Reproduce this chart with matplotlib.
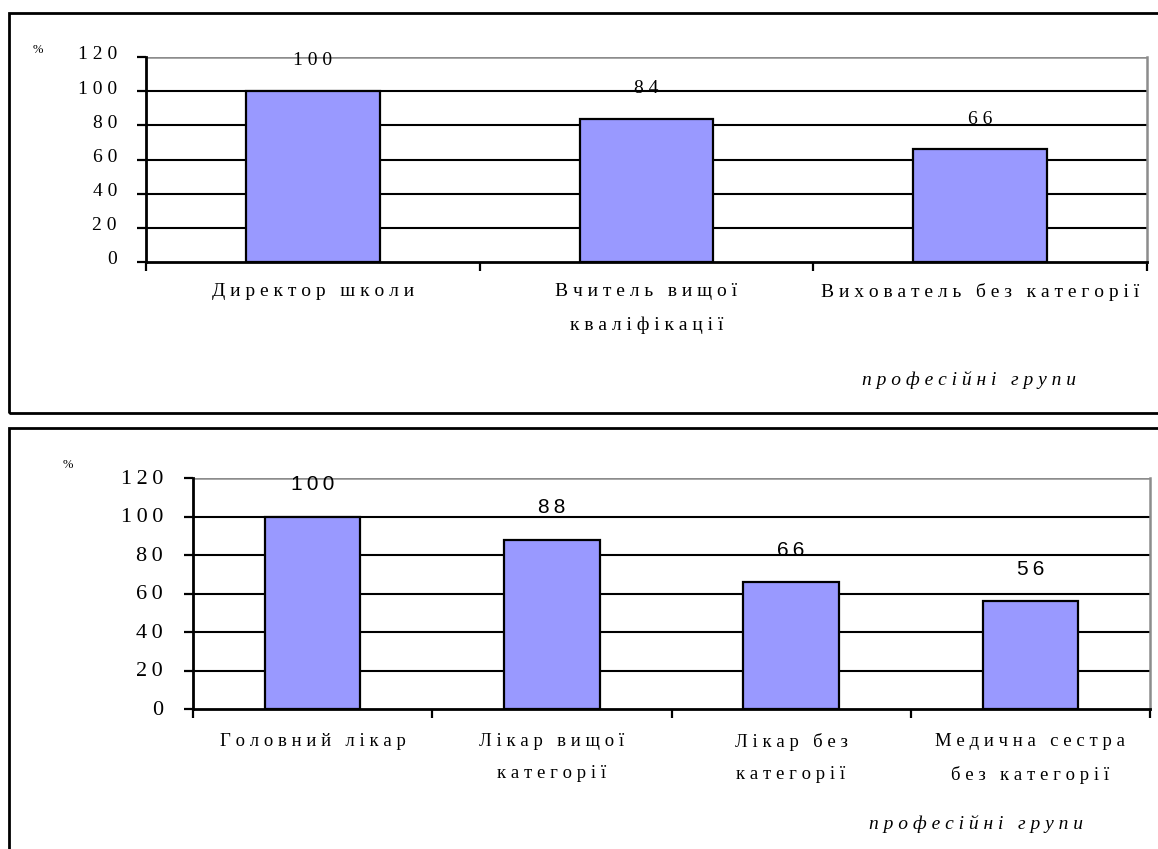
import matplotlib.pyplot as plt
import matplotlib.transforms as mtransforms
from matplotlib.patches import Rectangle

# top chart: school
school_groups = ["Директор школи", "Вчитель вищої\nкваліфікації", "Вихователь без категорії"]
school_values = [100, 84, 66]

# bottom chart: hospital
med_groups = ["Головний лікар", "Лікар вищої\nкатегорії", "Лікар без\nкатегорії", "Медична сестра\nбез категорії"]
med_values = [100, 88, 66, 56]

y_ticks = [0, 20, 40, 60, 80, 100, 120]
x_title = "професійні групи"

W, H = 1158, 849
BAR = "#9999ff"
SERIF = "Liberation Serif"
SANS = "Liberation Sans"
THIN = "\u2009"


def box(l, t, r, b):
    # pixel box -> figure fraction rect
    return [l / W, 1 - b / H, (r - l) / W, (b - t) / H]


def spaced(s, gap=" "):
    # letter-spaced text like in the old Word chart
    return "\n".join(gap.join(line) for line in s.split("\n"))


def draw_panel(fig, rect, cats, vals, tick_fs, tick_gap, tick_pad, tick_lift,
               val_font, val_fs, val_gap, val_off, cat_fs, cat_pad):
    ax = fig.add_axes(rect)
    x = list(range(len(cats)))
    ax.bar(x, vals, width=0.4, color=BAR, edgecolor="black", linewidth=1.6, zorder=3)
    ax.set_xlim(-0.5, len(cats) - 0.5)
    ax.set_ylim(0, 120)
    ax.set_yticks(y_ticks)
    ax.set_yticklabels([spaced(str(t), tick_gap) for t in y_ticks], fontfamily=SERIF, fontsize=tick_fs)
    for t in y_ticks[1:-1]:
        ax.axhline(t, color="black", linewidth=1.5, zorder=1)
    ax.axhline(120, color="#8c8c8c", linewidth=1.8, zorder=1)
    ax.set_xticks([i - 0.5 for i in range(len(cats) + 1)])
    ax.set_xticklabels([])
    ax.tick_params(axis="both", direction="out", length=6.5, width=1.6, color="black")
    ax.tick_params(axis="y", pad=tick_pad)
    lift = mtransforms.ScaledTranslation(0, tick_lift / 72, fig.dpi_scale_trans)
    for lab in ax.get_yticklabels():
        lab.set_transform(lab.get_transform() + lift)
    for i, c in enumerate(cats):
        ax.annotate(spaced(c), (i, 0), xytext=(0, -cat_pad), textcoords="offset points",
                    ha="center", va="top", fontfamily=SERIF, fontsize=cat_fs, linespacing=2.2)
    for i, v in enumerate(vals):
        ax.annotate(spaced(str(v), val_gap), (i, v), xytext=(0, val_off), textcoords="offset points",
                    ha="center", va="baseline", fontfamily=val_font, fontsize=val_fs)
    ax.spines["left"].set_linewidth(2)
    ax.spines["bottom"].set_linewidth(2)
    ax.spines["top"].set_visible(False)
    ax.spines["right"].set_color("#8c8c8c")
    ax.spines["right"].set_linewidth(1.8)
    return ax


fig = plt.figure(figsize=(W / 100, H / 100), dpi=100)

# outer frames
fig.patches.append(Rectangle((9 / W, 1 - 413 / H), 1.2, (413 - 13) / H, transform=fig.transFigure,
                             fill=False, edgecolor="black", linewidth=2))
fig.patches.append(Rectangle((9 / W, -0.1), 1.2, 0.1 + 1 - 428 / H, transform=fig.transFigure,
                             fill=False, edgecolor="black", linewidth=2))

draw_panel(fig, box(146, 57, 1147, 262), school_groups, school_values,
           tick_fs=14, tick_gap=" ", tick_pad=14.4, tick_lift=3,
           val_font=SERIF, val_fs=14, val_gap=" ", val_off=18.5, cat_fs=14, cat_pad=15.3)
fig.text(38 / W, 1 - 50 / H, "%", fontfamily=SERIF, fontsize=9, ha="center", va="center")
fig.text(969 / W, 1 - 380 / H, spaced(x_title), fontfamily=SERIF, fontsize=14, style="italic",
         ha="center", va="center")

draw_panel(fig, box(193, 478, 1150, 709), med_groups, med_values,
           tick_fs=16, tick_gap=THIN, tick_pad=15, tick_lift=1,
           val_font=SANS, val_fs=15, val_gap=THIN, val_off=19, cat_fs=13.5, cat_pad=17)
fig.text(68 / W, 1 - 465 / H, "%", fontfamily=SERIF, fontsize=9, ha="center", va="center")
fig.text(976 / W, 1 - 824 / H, spaced(x_title), fontfamily=SERIF, fontsize=14, style="italic",
         ha="center", va="center")

fig.savefig("out.png", dpi=100)
